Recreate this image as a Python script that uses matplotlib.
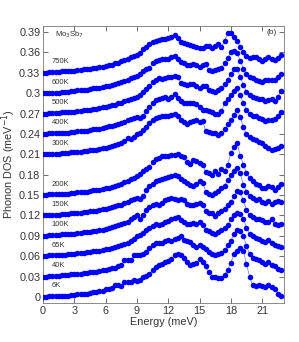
import numpy as np
import matplotlib
matplotlib.use("Agg")
import matplotlib.pyplot as plt

plt.rcParams['font.family'] = ['Liberation Sans', 'DejaVu Sans']

# Energy grid (meV)
energy = np.round(np.arange(0, 22.81, 0.3), 2)

temps = ['6K', '40K', '65K', '100K', '150K', '200K', '300K', '400K', '500K', '600K', '750K']
offsets = [0.00, 0.03, 0.06, 0.09, 0.12, 0.15, 0.21, 0.24, 0.27, 0.30, 0.33]

dos_6K = [0.000, 0.000, 0.001, 0.001, 0.001, 0.001, 0.002, 0.002, 0.002, 0.003, 0.003, 0.004, 0.004, 0.005, 0.005,
          0.006, 0.007, 0.007, 0.008, 0.009, 0.011, 0.012, 0.013, 0.017, 0.018, 0.016, 0.022, 0.022, 0.022,
          0.025, 0.023, 0.025, 0.029, 0.031, 0.033, 0.040, 0.044, 0.047, 0.049, 0.051, 0.053, 0.056, 0.061, 0.063,
          0.062, 0.057, 0.052, 0.047, 0.049, 0.050, 0.056, 0.051, 0.045, 0.036, 0.030, 0.029, 0.028, 0.028, 0.032,
          0.040, 0.050, 0.063, 0.068, 0.072, 0.068, 0.048, 0.030, 0.017, 0.016, 0.018, 0.016, 0.015, 0.017, 0.014,
          0.012, 0.005, 0.002]
dos_40K = [0.000, 0.000, 0.001, 0.001, 0.001, 0.001, 0.002, 0.002, 0.002, 0.003, 0.003, 0.004, 0.004, 0.005, 0.005,
           0.006, 0.006, 0.007, 0.008, 0.009, 0.010, 0.011, 0.012, 0.013, 0.015, 0.017, 0.024, 0.025, 0.025,
           0.031, 0.032, 0.031, 0.033, 0.036, 0.042, 0.046, 0.049, 0.050, 0.050, 0.052, 0.054, 0.053, 0.055, 0.057,
           0.059, 0.054, 0.052, 0.051, 0.046, 0.044, 0.046, 0.043, 0.040, 0.036, 0.033, 0.032, 0.033, 0.034, 0.039,
           0.046, 0.053, 0.062, 0.068, 0.067, 0.060, 0.045, 0.033, 0.028, 0.026, 0.024, 0.021, 0.019, 0.021, 0.017,
           0.015, 0.011, 0.009]
dos_65K = [0.000, 0.000, 0.001, 0.001, 0.001, 0.002, 0.002, 0.002, 0.003, 0.003, 0.003, 0.004, 0.004, 0.005, 0.006,
           0.006, 0.007, 0.008, 0.008, 0.009, 0.010, 0.011, 0.012, 0.014, 0.015, 0.017, 0.018, 0.020, 0.022,
           0.026, 0.029, 0.031, 0.034, 0.038, 0.042, 0.045, 0.047, 0.046, 0.048, 0.050, 0.052, 0.054, 0.056, 0.058,
           0.053, 0.051, 0.048, 0.047, 0.049, 0.048, 0.050, 0.046, 0.039, 0.037, 0.034, 0.033, 0.036, 0.038, 0.041,
           0.046, 0.054, 0.060, 0.064, 0.062, 0.055, 0.042, 0.033, 0.030, 0.027, 0.025, 0.022, 0.021, 0.024, 0.019,
           0.017, 0.015, 0.013]
dos_100K = [0.000, 0.000, 0.001, 0.001, 0.001, 0.001, 0.002, 0.002, 0.002, 0.003, 0.003, 0.004, 0.004, 0.005, 0.005,
            0.006, 0.007, 0.007, 0.008, 0.009, 0.010, 0.011, 0.013, 0.014, 0.016, 0.017, 0.019, 0.021, 0.024,
            0.027, 0.031, 0.025, 0.030, 0.038, 0.043, 0.046, 0.047, 0.046, 0.048, 0.052, 0.054, 0.055, 0.054, 0.053,
            0.054, 0.052, 0.047, 0.046, 0.045, 0.047, 0.049, 0.046, 0.037, 0.034, 0.033, 0.029, 0.033, 0.036, 0.039,
            0.045, 0.050, 0.058, 0.066, 0.064, 0.052, 0.038, 0.030, 0.027, 0.024, 0.025, 0.023, 0.021, 0.020, 0.024,
            0.018, 0.016, 0.017]
dos_150K = [0.000, 0.000, 0.001, 0.001, 0.001, 0.001, 0.002, 0.002, 0.002, 0.003, 0.003, 0.004, 0.004, 0.005, 0.005,
            0.006, 0.007, 0.007, 0.008, 0.009, 0.010, 0.011, 0.012, 0.014, 0.015, 0.016, 0.018, 0.020, 0.022,
            0.024, 0.026, 0.024, 0.028, 0.038, 0.044, 0.047, 0.050, 0.052, 0.053, 0.055, 0.057, 0.058, 0.060, 0.058,
            0.053, 0.051, 0.048, 0.045, 0.043, 0.046, 0.050, 0.048, 0.035, 0.031, 0.030, 0.033, 0.036, 0.040, 0.044,
            0.052, 0.060, 0.066, 0.070, 0.062, 0.045, 0.034, 0.028, 0.025, 0.023, 0.024, 0.020, 0.019, 0.021, 0.017,
            0.020, 0.021, 0.020]
dos_200K = [0.000, 0.000, 0.001, 0.001, 0.001, 0.001, 0.002, 0.002, 0.002, 0.003, 0.003, 0.004, 0.004, 0.005, 0.005,
            0.006, 0.007, 0.007, 0.008, 0.009, 0.010, 0.011, 0.012, 0.014, 0.015, 0.017, 0.019, 0.021, 0.023,
            0.025, 0.028, 0.031, 0.035, 0.039, 0.042, 0.048, 0.053, 0.055, 0.057, 0.057, 0.058, 0.059, 0.059, 0.060,
            0.057, 0.056, 0.049, 0.046, 0.052, 0.050, 0.047, 0.045, 0.034, 0.033, 0.030, 0.036, 0.031, 0.039, 0.035,
            0.045, 0.062, 0.071, 0.076, 0.058, 0.045, 0.032, 0.025, 0.021, 0.017, 0.015, 0.011, 0.010, 0.014, 0.012,
            0.008, 0.012, 0.017]
dos_300K = [0.000, 0.000, 0.001, 0.001, 0.001, 0.001, 0.002, 0.002, 0.002, 0.003, 0.003, 0.004, 0.004, 0.005, 0.005,
            0.006, 0.007, 0.007, 0.008, 0.009, 0.010, 0.011, 0.012, 0.014, 0.015, 0.017, 0.019, 0.024, 0.023,
            0.026, 0.030, 0.032, 0.036, 0.040, 0.046, 0.050, 0.053, 0.055, 0.056, 0.057, 0.057, 0.058, 0.059, 0.057,
            0.051, 0.047, 0.045, 0.047, 0.049, 0.050, 0.048, 0.049, 0.034, 0.033, 0.032, 0.031, 0.029, 0.031, 0.037,
            0.044, 0.050, 0.058, 0.066, 0.055, 0.040, 0.030, 0.026, 0.023, 0.021, 0.018, 0.016, 0.012, 0.009, 0.006,
            0.008, 0.010, 0.012]
dos_400K = [0.000, 0.000, 0.001, 0.001, 0.001, 0.001, 0.002, 0.002, 0.002, 0.003, 0.003, 0.004, 0.004, 0.005, 0.005,
            0.006, 0.007, 0.007, 0.008, 0.009, 0.010, 0.011, 0.012, 0.013, 0.015, 0.016, 0.018, 0.020, 0.022,
            0.024, 0.025, 0.023, 0.027, 0.034, 0.040, 0.045, 0.050, 0.051, 0.053, 0.055, 0.051, 0.055, 0.059, 0.053,
            0.048, 0.046, 0.045, 0.046, 0.045, 0.044, 0.040, 0.036, 0.035, 0.034, 0.032, 0.030, 0.029, 0.034, 0.045,
            0.052, 0.057, 0.063, 0.068, 0.057, 0.045, 0.036, 0.030, 0.026, 0.027, 0.023, 0.022, 0.019, 0.020, 0.021,
            0.022, 0.026, 0.032]
dos_500K = [0.000, 0.000, 0.001, 0.001, 0.001, 0.001, 0.002, 0.002, 0.002, 0.003, 0.003, 0.004, 0.004, 0.005, 0.005,
            0.006, 0.007, 0.007, 0.008, 0.009, 0.010, 0.011, 0.012, 0.013, 0.015, 0.016, 0.018, 0.020, 0.021,
            0.023, 0.025, 0.028, 0.032, 0.036, 0.041, 0.046, 0.050, 0.052, 0.051, 0.053, 0.054, 0.054, 0.055, 0.054,
            0.045, 0.043, 0.042, 0.043, 0.044, 0.041, 0.038, 0.041, 0.040, 0.035, 0.033, 0.032, 0.034, 0.037, 0.043,
            0.050, 0.058, 0.065, 0.066, 0.054, 0.042, 0.032, 0.027, 0.024, 0.023, 0.022, 0.021, 0.019, 0.020, 0.021,
            0.019, 0.025, 0.033]
dos_600K = [0.000, 0.000, 0.001, 0.001, 0.001, 0.001, 0.002, 0.002, 0.002, 0.003, 0.003, 0.004, 0.004, 0.005, 0.005,
            0.006, 0.007, 0.007, 0.008, 0.009, 0.010, 0.011, 0.012, 0.013, 0.015, 0.016, 0.018, 0.020, 0.022,
            0.024, 0.026, 0.029, 0.032, 0.035, 0.037, 0.044, 0.048, 0.049, 0.050, 0.051, 0.051, 0.053, 0.055, 0.050,
            0.046, 0.044, 0.041, 0.042, 0.043, 0.042, 0.039, 0.041, 0.043, 0.034, 0.033, 0.034, 0.035, 0.037, 0.045,
            0.052, 0.060, 0.062, 0.059, 0.048, 0.036, 0.028, 0.024, 0.022, 0.020, 0.018, 0.017, 0.020, 0.019, 0.020,
            0.019, 0.024, 0.029]
dos_750K = [0.000, 0.000, 0.001, 0.001, 0.001, 0.001, 0.002, 0.002, 0.002, 0.003, 0.003, 0.004, 0.004, 0.005, 0.005,
            0.006, 0.007, 0.007, 0.008, 0.009, 0.010, 0.011, 0.012, 0.014, 0.015, 0.017, 0.019, 0.021, 0.023,
            0.025, 0.027, 0.029, 0.035, 0.038, 0.042, 0.045, 0.047, 0.048, 0.050, 0.050, 0.052, 0.053, 0.056, 0.051,
            0.045, 0.044, 0.042, 0.041, 0.040, 0.038, 0.037, 0.037, 0.039, 0.040, 0.037, 0.039, 0.043, 0.038, 0.047,
            0.058, 0.059, 0.053, 0.047, 0.038, 0.030, 0.025, 0.022, 0.023, 0.024, 0.021, 0.017, 0.021, 0.023, 0.020,
            0.019, 0.022, 0.026]

series = [dos_6K, dos_40K, dos_65K, dos_100K, dos_150K, dos_200K,
          dos_300K, dos_400K, dos_500K, dos_600K, dos_750K]

xticks = [0, 3, 6, 9, 12, 15, 18, 21]
yticks = [0, 0.03, 0.06, 0.09, 0.12, 0.15, 0.18, 0.21, 0.24, 0.27, 0.30, 0.33, 0.36, 0.39]
ytick_labels = ['0', '0.03', '0.06', '0.09', '0.12', '0.15', '0.18', '0.21', '0.24',
                '0.27', '0.3', '0.33', '0.36', '0.39']

fig = plt.figure(figsize=(2.99, 3.42), dpi=100)
ax = fig.add_axes([0.144, 0.114, 0.806, 0.810])

blue = '#0000ff'
for name, off, vals in zip(temps, offsets, series):
    y = np.array(vals) + off
    ax.plot(energy, y, '-', color='#6f6fff', lw=0.5, zorder=2)
    ax.plot(energy, y, 'o', color=blue, ms=4.0, mec='none', zorder=3)
    ax.text(0.8, off + 0.011, name, fontsize=5.5, color='#333333', va='bottom', ha='left')

ax.text(1.1, 0.386, r'Mo$_3$Sb$_7$', fontsize=5.5, color='#333333', va='center', ha='left')
ax.text(22.4, 0.389, '(b)', fontsize=6, color='#333333', va='center', ha='right')

ax.set_xlim(0, 23.1)
ax.set_ylim(-0.009, 0.399)
ax.set_xticks(xticks)
ax.set_yticks(yticks)
ax.set_yticklabels(ytick_labels)
ax.tick_params(direction='in', length=3.5, width=0.5, top=True, right=True,
               labelsize=7.8, colors='#333333', pad=2)
for s in ax.spines.values():
    s.set_linewidth(0.6)
    s.set_color('#777777')
ax.set_xlabel('Energy (meV)', fontsize=7.8, color='#333333', labelpad=1)
ax.set_ylabel('Phonon DOS (meV$^{-1}$)', fontsize=7.8, color='#333333', labelpad=1)

fig.savefig('out.png', dpi=100)
